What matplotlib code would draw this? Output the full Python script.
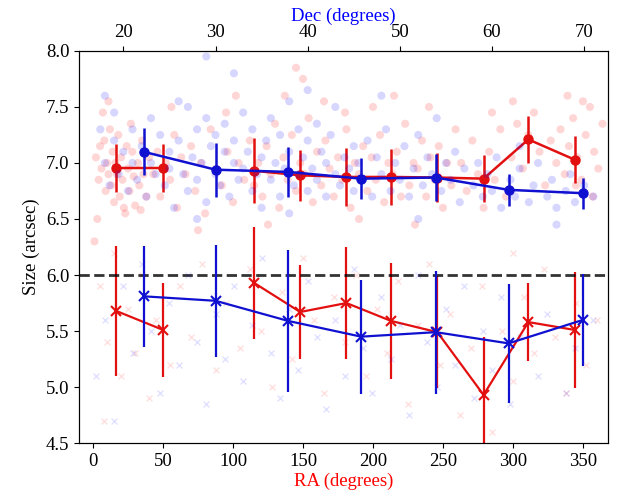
import numpy as np
import matplotlib
matplotlib.use('Agg')
import matplotlib.pyplot as plt

plt.rcParams['font.family'] = ['Liberation Serif', 'DejaVu Serif']
plt.rcParams['font.size'] = 13.5

# binned sizes (bright sources, circles) vs RA (red) and Dec (blue)
ra_bins = [16.4, 50, 83, 115, 148, 181, 213, 246, 279, 311, 344]
ra_hi = [6.955, 6.955, np.nan, 6.93, 6.89, 6.875, 6.875, 6.87, 6.86, 7.21, 7.03]
ra_hi_err = [0.21, 0.21, np.nan, 0.29, 0.23, 0.26, 0.25, 0.22, 0.21, 0.21, 0.21]
ra_lo = [5.68, 5.51, np.nan, 5.93, 5.67, 5.75, 5.59, 5.49, 4.93, 5.58, 5.51]
ra_lo_err = [0.58, 0.42, np.nan, 0.50, 0.42, 0.50, 0.52, 0.50, 0.52, 0.35, 0.52]

dec_bins = [22.2, 30.0, 37.9, 45.8, 53.9, 61.8, 69.9]
dec_hi = [7.10, 6.94, 6.92, 6.86, 6.87, 6.76, 6.73]
dec_hi_err = [0.21, 0.24, 0.22, 0.18, 0.21, 0.14, 0.14]
dec_lo = [5.81, 5.77, 5.59, 5.45, 5.49, 5.39, 5.60]
dec_lo_err = [0.45, 0.50, 0.63, 0.51, 0.55, 0.53, 0.41]

# individual sources, upper cloud (circles)
red_ra = [2, 4, 5, 6, 8, 9, 10, 11, 12, 13, 14, 15, 16, 17, 18, 19, 20, 21, 22, 24,
          25, 26, 28, 29, 30, 32, 33, 35, 36, 38, 40, 3, 7, 23, 27, 34, 1, 11,
          43, 46, 48, 52, 55, 58, 60, 63, 66, 70, 73, 77, 80, 84, 88, 92, 96, 100,
          104, 108, 56, 75, 95, 102,
          112, 115, 118, 121, 124, 127, 130, 133, 136, 139, 142, 145, 148, 151, 154,
          157, 160, 163, 166, 169, 172, 175, 178, 181, 184, 187, 190, 193, 196, 199,
          202, 205, 208, 211, 214, 217, 220, 223, 226, 229, 232, 235, 238, 241, 244,
          247, 250, 253, 256, 259, 137, 150, 165, 180, 200, 215, 240, 145, 125, 190, 230,
          263, 267, 271, 275, 279, 283, 287, 291, 295, 299, 303, 307, 311, 315, 319,
          323, 327, 285, 300,
          331, 334, 337, 340, 343, 346, 349, 352, 355, 358, 361, 364, 339, 350, 357, 345]
red_size = [7.05, 6.85, 7.15, 6.95, 7.2, 6.75, 7.0, 6.9, 7.3, 6.8, 7.1, 6.65, 7.0, 6.9,
            7.25, 6.7, 7.05, 6.85, 6.6, 7.15, 6.95, 6.75, 7.1, 6.88, 6.62, 7.0, 6.8,
            7.2, 6.9, 6.7, 7.05, 6.5, 7.45, 6.55, 7.35, 6.58, 6.3, 7.55,
            6.9, 7.1, 6.7, 7.0, 6.85, 7.25, 6.6, 7.05, 6.9, 7.15, 6.75, 7.0, 6.55, 7.3,
            6.95, 6.8, 7.1, 6.65, 7.0, 6.85, 7.5, 6.4, 7.45, 7.6,
            7.2, 6.8, 7.0, 6.7, 7.15, 6.9, 7.35, 6.6, 7.05, 6.85, 7.25, 6.75, 7.0, 6.9,
            7.4, 6.65, 7.1, 6.8, 7.2, 6.95, 6.7, 7.05, 6.85, 7.3, 6.6, 7.0, 6.9, 7.15,
            6.75, 7.05, 6.85, 7.25, 6.65, 7.0, 6.9, 7.1, 6.7, 7.35, 6.8, 7.0, 6.95, 7.2,
            6.7, 7.05, 6.85, 7.15, 6.6, 7.0, 6.8, 7.3, 7.6, 7.75, 7.55, 7.45, 7.5, 7.6,
            7.5, 7.85, 6.45, 6.5, 6.45,
            7.0, 6.75, 7.2, 6.9, 6.6, 7.1, 6.85, 7.3, 6.7, 7.05, 7.35, 6.95, 7.25, 7.45,
            7.1, 6.8, 7.2, 7.45, 7.55,
            7.0, 7.3, 6.9, 7.15, 7.4, 7.05, 6.85, 7.25, 7.5, 7.1, 6.95, 7.35, 7.6, 7.55,
            6.7, 6.8]

blue_dec = [17.5, 18, 18, 18.5, 19, 19, 19.5, 20, 20.5, 21, 21, 21.5, 22, 22.5, 23, 23,
            23.5, 24, 24.5, 25, 25, 25.5,
            26, 26.5, 27, 27, 27.5, 28, 28, 28.5, 29, 29, 29.5, 30, 30, 30.5, 31, 31,
            31.5, 32, 32, 32.5, 33, 33, 33.5, 34, 34, 34.5, 35, 35, 29, 32, 26, 28,
            35.5, 36, 36, 36.5, 37, 37, 37.5, 38, 38, 38.5, 39, 39, 39.5, 40, 40, 40.5,
            41, 41, 41.5, 42, 42, 42.5, 43, 43, 43.5, 44, 44.5, 45, 45, 38, 40,
            45.5, 46, 46.5, 47, 47.5, 48, 48.5, 49, 49.5, 50, 50.5, 51, 51.5, 52, 52.5,
            53, 53.5, 54, 54.5, 55, 55.5, 56, 56.5, 57, 48, 52,
            58, 58.5, 59, 59.5, 60, 60.5, 61, 62, 62.5, 63, 64, 64.5, 65, 66, 66.5, 67,
            68, 68.5, 69, 70, 71, 63, 67]
blue_size = [7.3, 7.6, 7.0, 6.8, 7.2, 7.45, 6.9, 7.1, 6.75, 7.3, 7.0, 6.85, 7.15, 6.7,
             7.4, 7.0, 6.9, 7.25, 6.8, 7.1, 6.95, 6.6,
             7.2, 6.9, 7.5, 6.75, 7.05, 7.3, 6.85, 7.0, 7.4, 6.65, 7.15, 6.9, 7.25, 6.8,
             7.1, 7.35, 6.7, 7.0, 7.2, 6.85, 7.45, 6.95, 7.1, 6.75, 7.3, 6.9, 7.05, 6.6,
             7.95, 7.8, 7.55, 6.5,
             7.2, 6.85, 7.4, 7.0, 6.7, 7.25, 6.95, 7.55, 7.1, 6.8, 7.3, 6.9, 7.05, 6.75,
             7.2, 6.95, 7.35, 6.85, 7.1, 6.7, 7.0, 7.25, 6.9, 7.5, 6.8, 7.05, 6.95, 7.15,
             6.75, 6.55, 7.65,
             7.0, 6.85, 7.2, 6.7, 7.05, 6.9, 7.3, 6.75, 7.0, 6.85, 7.15, 6.7, 6.95, 7.25,
             6.8, 7.05, 6.9, 7.4, 6.75, 7.0, 6.85, 7.1, 6.65, 6.95, 7.6, 6.5,
             6.8, 7.0, 6.7, 6.9, 6.75, 7.05, 6.6, 6.85, 6.7, 6.95, 6.65, 6.8, 7.0, 6.7,
             6.85, 6.6, 6.75, 6.9, 6.65, 6.8, 6.7, 7.15, 6.45]

# individual sources, lower cloud (crosses)
red_ra_lo = [5, 10, 15, 20, 25, 30, 35, 40, 8, 45, 55, 62, 70, 78, 88, 95, 105, 112,
             120, 128, 135, 142, 150, 158, 165, 172, 180, 188, 195, 203, 210, 218, 225,
             232, 240, 248, 255, 262, 270, 278, 285, 292, 300, 308, 315, 322, 330, 338,
             345, 352, 360, 300]
red_size_lo = [5.9, 5.4, 6.2, 5.1, 5.7, 5.3, 6.0, 4.9, 4.7, 5.6, 5.2, 5.9, 5.45, 6.1,
               5.15, 5.75, 5.35, 6.05, 5.5, 5.0, 5.85, 5.25, 6.15, 5.6, 4.95, 5.8, 5.4,
               6.0, 5.1, 5.7, 5.3, 5.95, 4.85, 5.55, 6.1, 5.2, 5.65, 4.75, 5.35, 5.9,
               4.6, 5.5, 5.05, 5.8, 5.3, 6.05, 5.45, 4.95, 5.75, 5.2, 5.6, 6.2]
blue_dec_lo = [17, 18, 19, 20, 21, 22, 23, 24, 25, 26, 27, 28, 29, 30, 31, 32, 33, 34,
               35, 36, 37, 38, 39, 40, 41, 42, 43, 44, 45, 46, 47, 48, 49, 50, 51, 52,
               53, 54, 55, 56, 57, 58, 59, 60, 61, 62, 63, 65, 66, 68, 69, 71]
blue_size_lo = [5.1, 5.6, 4.7, 5.9, 5.3, 6.1, 5.5, 4.95, 5.75, 5.2, 6.0, 5.4, 4.85,
                5.65, 5.25, 5.9, 5.05, 5.55, 6.15, 5.3, 4.9, 5.7, 5.15, 5.95, 5.45, 4.8,
                5.6, 5.1, 6.05, 5.35, 4.95, 5.8, 5.25, 5.55, 4.75, 6.0, 5.4, 5.0, 5.7,
                5.2, 5.9, 4.9, 5.5, 5.15, 5.8, 4.85, 5.45, 5.1, 5.65, 4.95, 5.35, 5.6]

fig = plt.figure(figsize=(6.18, 4.99), dpi=100)
ax = fig.add_axes([0.128, 0.112, 0.856, 0.786])

# RA (bottom axis, red)
ax.scatter(red_ra, red_size, s=34, color='red', alpha=0.16, edgecolors='none')
ax.scatter(red_ra_lo, red_size_lo, s=18, marker='x', color='red', alpha=0.12, linewidths=1)
ax.errorbar(ra_bins, ra_hi, yerr=ra_hi_err, color='#e31010', marker='o', ms=6.5,
            lw=1.8, elinewidth=1.8)
ax.errorbar(ra_bins, ra_lo, yerr=ra_lo_err, color='#e31010', marker='x', ms=7,
            mew=1.5, lw=1.6, elinewidth=1.6)
ax.axhline(6.0, color='black', ls='--', lw=2, alpha=0.8)
ax.set_xlim(-10, 368)
ax.set_ylim(4.5, 8.0)
ax.set_xticks([0, 50, 100, 150, 200, 250, 300, 350])
ax.set_yticks([4.5, 5.0, 5.5, 6.0, 6.5, 7.0, 7.5, 8.0])
ax.set_xlabel('RA (degrees)', color='red', labelpad=2)
ax.set_ylabel('Size (arcsec)')

# Dec (top axis, blue)
ax2 = ax.twiny()
ax2.scatter(blue_dec, blue_size, s=34, color='blue', alpha=0.16, edgecolors='none')
ax2.scatter(blue_dec_lo, blue_size_lo, s=18, marker='x', color='blue', alpha=0.12, linewidths=1)
ax2.errorbar(dec_bins, dec_hi, yerr=dec_hi_err, color='#1010d0', marker='o', ms=6.5,
             lw=1.8, elinewidth=1.8)
ax2.errorbar(dec_bins, dec_lo, yerr=dec_lo_err, color='#1010d0', marker='x', ms=7,
             mew=1.5, lw=1.6, elinewidth=1.6)
ax2.set_xlim(15.2, 72.6)
ax2.set_xticks([20, 30, 40, 50, 60, 70])
ax2.set_xlabel('Dec (degrees)', color='blue', labelpad=2)

fig.savefig('out.png', dpi=100)
